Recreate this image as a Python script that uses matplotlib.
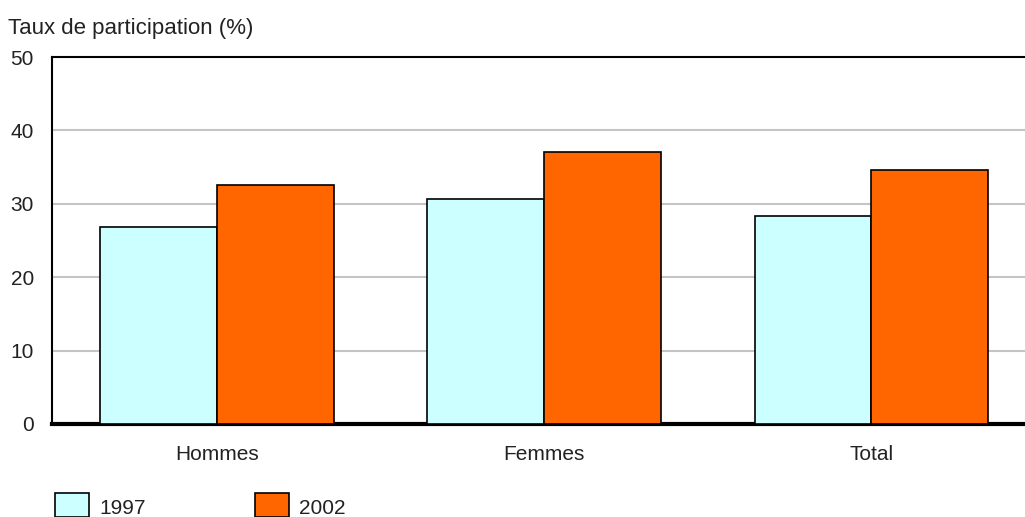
import numpy as np
import matplotlib
matplotlib.use("Agg")
import matplotlib.pyplot as plt
from matplotlib.patches import Rectangle

categories = ["Hommes", "Femmes", "Total"]
values_1997 = [26.8, 30.6, 28.4]
values_2002 = [32.5, 37.1, 34.6]
series_labels = ["1997", "2002"]
y_ticks = [0, 10, 20, 30, 40, 50]

plt.rcParams["font.family"] = ["Liberation Sans", "DejaVu Sans"]
fs = 15

fig = plt.figure(figsize=(10.25, 5.17), dpi=100, facecolor="white")
ax = fig.add_axes([0.0507, 0.1799, 0.9493, 0.7098])

x = np.arange(len(categories))
width = 0.357
ax.bar(x - width / 2, values_1997, width, color="#ccffff", edgecolor="black", linewidth=1.2, zorder=3)
ax.bar(x + width / 2, values_2002, width, color="#ff6600", edgecolor="black", linewidth=1.2, zorder=3)

ax.set_xlim(-0.505, 2.47)
ax.set_ylim(0, 50)
ax.set_yticks(y_ticks)
ax.set_yticklabels([str(t) for t in y_ticks], fontsize=fs, color="#222222")
ax.set_xticks(x)
ax.set_xticklabels(categories, fontsize=fs, color="#222222")
ax.tick_params(axis="both", length=0)
ax.tick_params(axis="y", pad=13)
ax.tick_params(axis="x", pad=15)

for yv in y_ticks[1:-1]:
    ax.axhline(yv, color="#c4c4c4", linewidth=1.5, zorder=1)

ax.spines["right"].set_visible(False)
ax.spines["top"].set_linewidth(1.5)
ax.spines["left"].set_linewidth(1.5)
ax.spines["bottom"].set_linewidth(3)

fig.text(0.008, 0.945, "Taux de participation (%)", fontsize=16, color="#222222", ha="left", va="center")

# legend
colors = ["#ccffff", "#ff6600"]
lx = [0.054, 0.249]
for i, lab in enumerate(series_labels):
    fig.patches.append(Rectangle((lx[i], 0.0), 0.033, 0.046, transform=fig.transFigure,
                                 facecolor=colors[i], edgecolor="black", linewidth=1.2))
    fig.text(lx[i] + 0.043, 0.017, lab, fontsize=fs, color="#222222", ha="left", va="center")

fig.savefig("out.png", dpi=100)
